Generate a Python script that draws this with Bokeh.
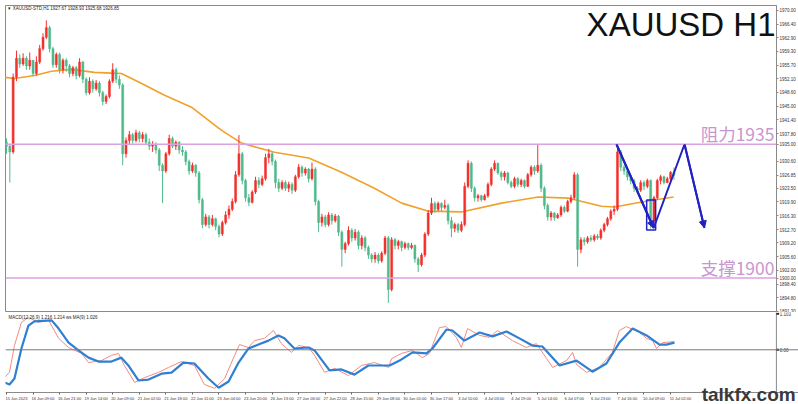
from bokeh.plotting import figure
from bokeh.layouts import column
from bokeh.models import (ColumnDataSource, FixedTicker, Label, Arrow, NormalHead,
                          Span, PrintfTickFormatter, Range1d, LinearAxis)
from bokeh.core.properties import value
from bokeh.embed import file_html
from bokeh.resources import INLINE

# ---------------- data (2-hour bars) ----------------
first_open = 1935.5
closes = [
    1934.5, 1933.0, 1952.5, 1957.5, 1956.0, 1957.5, 1955.5, 1957.0, 1953.5, 1956.5,
    1960.0, 1963.0, 1965.5, 1960.0, 1955.8, 1958.5, 1954.5, 1957.0, 1955.5, 1953.5,
    1955.0, 1953.0, 1956.5, 1952.0, 1948.5, 1951.5, 1949.5, 1951.0, 1948.5, 1946.2,
    1947.5, 1951.5, 1954.5, 1952.0, 1950.5, 1932.5, 1936.0, 1937.5, 1936.0, 1938.0,
    1936.5, 1937.5, 1935.5, 1934.5, 1935.0, 1933.5, 1929.5, 1928.0, 1932.5, 1936.5,
    1934.5, 1935.5, 1933.5, 1933.0, 1930.5, 1928.0, 1929.5, 1927.5, 1920.5, 1914.0,
    1916.0, 1914.0, 1915.5, 1913.5, 1911.5, 1914.5, 1916.5, 1918.0, 1920.0, 1927.0,
    1932.5, 1925.5, 1921.0, 1919.8, 1922.5, 1925.5, 1924.5, 1926.0, 1931.5, 1932.5,
    1930.5, 1925.0, 1923.5, 1925.0, 1923.5, 1924.5, 1923.0, 1926.5, 1929.0, 1927.5,
    1928.5, 1926.0, 1928.5, 1920.0, 1914.5, 1916.0, 1914.0, 1916.5, 1915.0, 1916.2,
    1912.0, 1907.5, 1909.0, 1912.5, 1910.5, 1912.0, 1908.5, 1910.5, 1908.0, 1906.0,
    1905.0, 1906.0, 1904.5, 1906.5, 1910.5, 1897.0, 1910.0, 1908.5, 1909.5, 1908.0,
    1909.0, 1908.0, 1908.5, 1905.0, 1903.5, 1906.0, 1911.5, 1917.0, 1919.5, 1918.0,
    1919.5, 1918.5, 1919.0, 1915.0, 1913.0, 1914.0, 1912.5, 1914.0, 1924.0, 1930.0,
    1923.5, 1921.0, 1921.5, 1920.5, 1921.5, 1924.5, 1928.5, 1930.0, 1927.5, 1926.5,
    1927.5, 1925.0, 1924.0, 1926.0, 1924.5, 1925.5, 1924.0, 1927.0, 1929.0, 1928.0,
    1929.5, 1923.5, 1919.0, 1916.0, 1917.0, 1915.8, 1916.5, 1918.5, 1917.5, 1920.0,
    1921.0, 1927.0, 1907.5, 1910.0, 1909.5, 1910.5, 1910.0, 1911.0, 1910.5, 1912.5,
    1914.0, 1915.5, 1917.5, 1918.0, 1933.0, 1929.0, 1928.0, 1926.5, 1925.5, 1923.5,
    1923.0, 1925.0, 1924.0, 1925.5, 1915.0, 1921.0, 1925.5, 1926.5, 1925.0, 1926.0,
    1927.67, 1926.85,
]
highs = [
    1936.5, 1935.0, 1953.5, 1959.5, 1958.5, 1958.8, 1958.0, 1959.0, 1957.0, 1958.0,
    1961.0, 1964.0, 1967.4, 1966.0, 1960.5, 1959.0, 1959.0, 1957.5, 1957.5, 1956.0,
    1955.5, 1955.5, 1957.5, 1956.8, 1952.5, 1952.5, 1952.0, 1951.8, 1951.5, 1949.0,
    1948.0, 1952.0, 1956.2, 1955.0, 1953.0, 1951.0, 1936.8, 1938.5, 1938.0, 1938.8,
    1938.5, 1938.2, 1938.0, 1936.5, 1935.8, 1935.5, 1934.0, 1930.0, 1933.0, 1937.5,
    1937.0, 1936.0, 1935.8, 1934.5, 1933.5, 1931.0, 1930.2, 1929.8, 1928.0, 1921.0,
    1916.8, 1916.5, 1916.5, 1915.8, 1914.0, 1915.0, 1917.5, 1919.0, 1920.8, 1928.0,
    1937.4, 1933.0, 1926.0, 1922.0, 1923.0, 1926.5, 1926.4, 1926.8, 1932.5, 1933.8,
    1933.0, 1931.0, 1926.0, 1925.6, 1925.5, 1925.2, 1925.0, 1927.0, 1929.8, 1929.5,
    1929.0, 1928.8, 1930.2, 1929.0, 1920.5, 1916.8, 1916.5, 1917.2, 1917.0, 1916.8,
    1916.5, 1912.5, 1909.5, 1913.5, 1913.0, 1912.8, 1912.5, 1911.2, 1911.0, 1908.5,
    1906.5, 1906.8, 1906.5, 1907.0, 1911.0, 1911.0, 1910.7, 1910.5, 1910.0, 1909.8,
    1909.5, 1909.3, 1909.2, 1908.8, 1905.5, 1906.6, 1912.0, 1917.8, 1921.0, 1920.0,
    1920.0, 1919.8, 1920.5, 1919.5, 1916.0, 1914.5, 1914.4, 1914.8, 1925.0, 1930.8,
    1930.5, 1924.0, 1922.0, 1921.8, 1922.0, 1925.0, 1929.0, 1930.8, 1930.2, 1928.0,
    1928.0, 1927.8, 1925.5, 1926.5, 1926.4, 1926.0, 1925.8, 1927.5, 1929.5, 1929.5,
    1934.8, 1930.0, 1924.0, 1919.5, 1917.5, 1917.2, 1917.0, 1919.0, 1919.0, 1920.5,
    1921.8, 1927.7, 1927.5, 1910.7, 1910.7, 1911.0, 1911.2, 1911.5, 1911.5, 1913.0,
    1914.5, 1916.0, 1918.0, 1919.0, 1934.5, 1933.5, 1929.5, 1928.5, 1927.0, 1926.0,
    1924.0, 1925.6, 1925.5, 1926.0, 1925.8, 1921.5, 1926.0, 1927.0, 1926.8, 1926.5,
    1928.0, 1928.93,
]
lows = [
    1932.5, 1925.0, 1932.5, 1951.5, 1955.0, 1955.5, 1954.5, 1954.5, 1952.8, 1953.0,
    1956.0, 1959.5, 1962.5, 1959.0, 1955.0, 1955.0, 1953.5, 1953.5, 1954.0, 1952.5,
    1952.8, 1952.0, 1952.5, 1951.0, 1947.8, 1948.0, 1948.5, 1949.0, 1947.5, 1945.2,
    1945.5, 1947.0, 1951.0, 1951.0, 1949.5, 1929.5, 1931.5, 1935.0, 1935.2, 1935.5,
    1935.5, 1935.5, 1934.8, 1933.5, 1933.0, 1932.5, 1928.0, 1919.6, 1927.5, 1932.0,
    1934.0, 1933.5, 1932.5, 1932.0, 1929.5, 1927.0, 1927.5, 1926.5, 1919.5, 1913.0,
    1913.5, 1913.0, 1913.5, 1912.5, 1910.7, 1911.0, 1914.0, 1915.5, 1917.5, 1919.5,
    1926.5, 1924.5, 1920.0, 1918.8, 1919.5, 1922.0, 1923.5, 1924.0, 1925.5, 1930.0,
    1929.5, 1923.5, 1922.5, 1923.0, 1922.8, 1922.5, 1922.0, 1922.5, 1926.0, 1926.5,
    1926.8, 1925.0, 1925.5, 1919.0, 1912.0, 1913.5, 1913.3, 1913.5, 1914.0, 1914.5,
    1911.0, 1903.0, 1906.5, 1908.5, 1909.5, 1909.8, 1907.5, 1907.5, 1907.0, 1905.0,
    1904.0, 1904.0, 1903.8, 1904.0, 1906.0, 1893.5, 1896.5, 1907.5, 1907.5, 1907.0,
    1907.5, 1907.3, 1907.5, 1904.0, 1901.6, 1903.0, 1905.5, 1911.0, 1916.5, 1917.0,
    1917.5, 1917.5, 1918.0, 1914.0, 1910.7, 1912.0, 1911.8, 1912.0, 1913.5, 1923.5,
    1922.5, 1920.0, 1920.0, 1920.0, 1920.3, 1921.0, 1924.0, 1928.0, 1927.0, 1925.5,
    1925.5, 1924.5, 1923.5, 1923.5, 1923.8, 1923.8, 1923.5, 1923.8, 1926.5, 1927.0,
    1927.5, 1922.5, 1918.0, 1915.0, 1915.0, 1915.0, 1915.5, 1916.0, 1917.0, 1917.2,
    1919.5, 1920.5, 1903.0, 1906.5, 1908.5, 1909.0, 1909.5, 1909.5, 1910.0, 1910.0,
    1912.0, 1913.5, 1915.0, 1916.5, 1917.5, 1928.0, 1927.0, 1925.5, 1924.5, 1922.5,
    1922.0, 1922.5, 1923.0, 1923.5, 1913.0, 1914.5, 1920.5, 1924.5, 1924.5, 1924.8,
    1925.0, 1925.68,
]

# moving average (orange), read at points along its path
ma_x = [-0.5, 2.4, 8.4, 13.6, 19.6, 26.5, 31.6, 34.6, 40.7, 47.6, 55.7, 63.9, 65.7, 70.8,
        80.7, 91.0, 100.9, 110.8, 119.0, 127.1, 137.0, 149.1, 160.2, 169.3, 179.2, 183.1,
        191.3, 200.9]
ma_y = [1952.5, 1952.2, 1953.0, 1954.1, 1954.6, 1953.8, 1953.6, 1953.5, 1950.9, 1947.8,
        1944.7, 1939.2, 1938.1, 1935.3, 1932.9, 1931.4, 1927.7, 1923.5, 1919.6, 1917.5,
        1917.3, 1919.6, 1921.2, 1920.9, 1918.8, 1918.6, 1919.9, 1921.2]

# MACD panel: signal (blue, thick) and MACD (red, thin)
sig_x = [-0.6, 0.9, 2.4, 4.5, 6.6, 8.4, 13.6, 15.7, 18.7, 21.7, 24.7, 27.7, 31.6, 34.6,
         36.7, 39.8, 42.8, 46.7, 49.7, 53.3, 56.6, 60.8, 63.9, 66.9, 69.9, 72.9, 75.9,
         78.9, 81.9, 83.7, 86.7, 91.0, 92.8, 97.3, 100.9, 104.8, 109.0, 113.0, 115.4,
         118.4, 122.3, 126.5, 128.3, 132.5, 134.3, 137.9, 142.5, 146.4, 150.6, 154.5,
         158.4, 161.4, 166.6, 171.7, 176.5, 180.7, 184.6, 188.6, 192.8, 196.7, 198.8, 201.2]
sig_v = [-1.00, -1.06, -0.88, 0.04, 0.74, 0.87, 0.90, 0.65, 0.22, -0.02, -0.24, -0.36,
         -0.36, -0.24, -0.48, -0.94, -0.91, -0.73, -0.70, -0.39, -0.42, -0.88, -1.16, -0.97,
         -0.39, 0.04, 0.16, 0.28, 0.44, 0.35, 0.04, 0.07, -0.02, -0.63, -0.60, -0.76,
         -0.48, -0.48, -0.48, -0.33, -0.08, -0.11, 0.04, 0.62, 0.59, 0.28, 0.53, 0.41,
         0.56, 0.35, 0.13, 0.10, -0.48, -0.33, -0.67, -0.42, 0.22, 0.65, 0.44, 0.16, 0.16, 0.22]
macd_x = [-0.6, 0.9, 2.4, 4.5, 6.6, 9.6, 12.7, 15.7, 18.7, 22.6, 24.7, 28.6, 31.6, 33.7,
          35.5, 38.6, 41.6, 45.8, 48.8, 52.7, 56.6, 59.6, 62.7, 65.7, 68.7, 70.2, 72.9,
          74.7, 77.7, 80.4, 82.8, 85.8, 88.0, 91.0, 92.8, 95.8, 98.8, 103.0, 106.9, 110.8,
          115.1, 116.0, 119.0, 122.3, 125.3, 127.4, 130.4, 132.5, 135.5, 137.0, 138.9,
          142.5, 145.5, 147.9, 152.4, 156.6, 159.6, 162.7, 164.5, 168.7, 170.5, 171.7,
          174.7, 178.6, 182.5, 184.6, 186.7, 190.7, 192.8, 194.6, 195.8, 197.6, 201.2]
macd_v = [-0.85, -0.69, 0.13, 0.84, 0.99, 0.84, 0.90, 0.35, 0.07, -0.11, -0.39, -0.33,
          -0.17, -0.11, -0.48, -1.00, -0.85, -0.69, -0.54, -0.36, -0.48, -1.06, -1.18, -0.88,
          -0.17, 0.16, 0.07, 0.28, 0.35, 0.59, 0.19, -0.08, 0.13, 0.07, -0.17, -0.69,
          -0.57, -0.79, -0.48, -0.39, -0.54, -0.27, -0.11, -0.02, -0.24, -0.11, 0.68, 0.71,
          0.38, 0.07, 0.65, 0.44, 0.38, 0.59, 0.28, 0.07, 0.19, -0.27, -0.54, -0.33,
          -0.08, -0.45, -0.69, -0.54, -0.08, 0.59, 0.71, 0.53, 0.35, 0.28, 0.04, 0.22, 0.25]

resistance = 1935.0
support = 1900.0
current_price = 1926.85

price_ticks = [1970.0, 1966.4, 1962.9, 1959.3, 1955.7, 1952.1, 1948.6, 1945.0, 1941.4,
               1937.8, 1935.0, 1930.6, 1926.85, 1923.5, 1919.9, 1916.3, 1912.7, 1909.2,
               1905.6, 1902.0, 1900.0, 1898.4, 1894.8, 1891.3]
macd_ticks = [1.103, 0.0]
macd_tick_labels = ["1.103", "0.00"]

time_labels = ["15 Jun 2023", "16 Jun 09:00", "16 Jun 21:00", "19 Jun 14:00", "20 Jun 09:00",
               "21 Jun 02:00", "21 Jun 18:00", "22 Jun 11:00", "23 Jun 04:00", "23 Jun 20:00",
               "26 Jun 13:00", "27 Jun 06:00", "27 Jun 22:00", "28 Jun 15:00", "29 Jun 08:00",
               "30 Jun 01:00", "30 Jun 17:00", "3 Jul 10:00", "4 Jul 03:00", "4 Jul 19:00",
               "5 Jul 14:00", "6 Jul 07:00", "6 Jul 23:00", "7 Jul 16:00", "10 Jul 09:00",
               "11 Jul 02:00"]
bars_per_label = 8

# hand-drawn pattern (blue zigzag with arrows and box)
zig_x = [183.7, 194.9, 204.2, 210.2]
zig_y = [1935.0, 1913.1, 1935.0, 1913.1]
box_left, box_right, box_top, box_bottom = 192.8, 195.5, 1920.4, 1912.6

# ---------------- styling ----------------
UP = "#f2302c"
DOWN = "#4fb98a"
PINK = "#dba2e2"
PINK_TXT = "#c995d0"
BLUE = "#2222c4"
AXIS_FONT = "Liberation Sans"
PX_PER_BAR = 3.32
AXIS_END = 231.9          # bar position of the price axis line

opens = [first_open] + closes[:-1]
xs = list(range(len(closes)))
colors = [UP if c >= o else DOWN for o, c in zip(opens, closes)]
src = ColumnDataSource(dict(
    x=xs, high=highs, low=lows,
    top=[max(o, c) for o, c in zip(opens, closes)],
    bottom=[min(o, c) for o, c in zip(opens, closes)],
    color=colors))

# ---------------- main price panel ----------------
p = figure(frame_width=771, frame_height=306, x_range=Range1d(-0.3, AXIS_END),
           y_range=Range1d(1891.25, 1971.3), output_backend="svg",
           toolbar_location=None, x_axis_location=None, y_axis_location="right",
           min_border_left=5, min_border_right=0, min_border_top=5, min_border_bottom=1)
p.grid.visible = False
p.outline_line_color = "#8a8a8a"
p.background_fill_color = "white"

ya = p.yaxis[0]
ya.ticker = FixedTicker(ticks=price_ticks)
ya.formatter = PrintfTickFormatter(format="%.2f")
ya.major_label_text_font = AXIS_FONT
ya.major_label_text_font_size = "4.5px"
ya.major_label_text_color = "#333333"
ya.axis_line_color = "#8a8a8a"
ya.major_tick_line_color = "#8a8a8a"
ya.major_tick_out = 2
ya.major_tick_in = 0
ya.minor_tick_out = 0
ya.minor_tick_in = 0
ya.major_label_standoff = 1

p.add_layout(Span(location=resistance, dimension="width", line_color=PINK, line_width=1.6))
p.add_layout(Span(location=support, dimension="width", line_color=PINK, line_width=1.6))

p.line(ma_x, ma_y, line_color="#f0a12a", line_width=1.6)

p.segment(x0="x", y0="low", x1="x", y1="high", source=src, line_color="color", line_width=1)
p.vbar(x="x", width=0.6, top="top", bottom="bottom", source=src,
       fill_color="color", line_color="color", line_width=0.5)

p.line(zig_x, zig_y, line_color=BLUE, line_width=2)
for k in (0, 2):
    p.add_layout(Arrow(end=NormalHead(size=7, fill_color=BLUE, line_color=BLUE),
                       x_start=zig_x[k], y_start=zig_y[k], x_end=zig_x[k + 1], y_end=zig_y[k + 1],
                       line_color=BLUE, line_width=2))
p.quad(left=[box_left], right=[box_right], top=[box_top], bottom=[box_bottom],
       fill_alpha=0, line_color=BLUE, line_width=1.5)

p.add_layout(Label(x=231.3, y=1937.8, text="阻力1935", text_align="right",
                   text_baseline="middle", text_font="Noto Sans CJK SC",
                   text_font_size="17.5px", text_color=PINK_TXT))
p.add_layout(Label(x=231.3, y=1902.8, text="支撑1900", text_align="right",
                   text_baseline="middle", text_font="Noto Sans CJK SC",
                   text_font_size="17.5px", text_color=PINK_TXT))
p.add_layout(Label(x=231.6, y=1966.3, text="XAUUSD H1", text_align="right",
                   text_baseline="middle", text_font="Liberation Sans",
                   text_font_size="33px", text_color="#111111"))
p.add_layout(Label(x=0.6, y=1970.5, text="\u25BE XAUUSD-STD,H1  1927.67 1928.93 1925.68 1926.85",
                   text_align="left", text_baseline="middle", text_font=AXIS_FONT,
                   text_font_size="4.5px", text_color="#222222"))

# ---------------- MACD panel ----------------
q_end = -0.3 + 793 / PX_PER_BAR
q = figure(frame_width=793, frame_height=92, x_range=Range1d(-0.3, q_end),
           y_range=Range1d(-1.674, 1.141), output_backend="svg", toolbar_location=None,
           y_axis_location=None, x_axis_location=None,
           min_border_left=5, min_border_right=0, min_border_top=0, min_border_bottom=0)
q.grid.visible = False
q.outline_line_color = None

q.add_layout(Span(location=0, dimension="width", line_color="#7a7a7a", line_width=1))
q.line(macd_x, macd_v, line_color="#f28b82", line_width=1)
q.line(sig_x, sig_v, line_color="#2f7fd2", line_width=2.2)

# price-axis continuation with its two MACD levels
axis_bottom = -1.307
q.segment(x0=[AXIS_END], y0=[1.141], x1=[AXIS_END], y1=[axis_bottom],
          line_color="#8a8a8a", line_width=1)
q.segment(x0=[AXIS_END] * len(macd_ticks), y0=macd_ticks,
          x1=[AXIS_END + 0.8] * len(macd_ticks), y1=macd_ticks,
          line_color="#222222", line_width=2)
q.text(x=[AXIS_END + 1.0] * len(macd_ticks), y=macd_ticks, text=macd_tick_labels,
       text_align="left", text_baseline="middle", text_font=value(AXIS_FONT),
       text_font_size="4.5px", text_color="#333333")

label_ticks = [bars_per_label * k + 3 for k in range(len(time_labels))]
xa = LinearAxis(fixed_location=axis_bottom)
xa.ticker = FixedTicker(ticks=label_ticks,
                        minor_ticks=[bars_per_label * k for k in range(len(time_labels))])
xa.major_label_overrides = {t: s for t, s in zip(label_ticks, time_labels)}
xa.major_label_text_font = AXIS_FONT
xa.major_label_text_font_size = "4px"
xa.major_label_text_color = "#333333"
xa.axis_line_color = "#8a8a8a"
xa.major_tick_out = 0
xa.major_tick_in = 0
xa.minor_tick_out = 2
xa.minor_tick_in = 0
xa.minor_tick_line_color = "#666666"
xa.major_label_standoff = 1
q.add_layout(xa, "below")

q.add_layout(Label(x=0.6, y=0.99, text="MACD(12,26,9) 1.216 1.214 ws MA(9) 1.026",
                   text_align="left", text_baseline="middle", text_font=AXIS_FONT,
                   text_font_size="4.5px", text_color="#222222"))
q.add_layout(Label(x=237.7, y=-1.37, text="talkfx.com", text_align="right",
                   text_baseline="middle", text_font="Liberation Sans",
                   text_font_style="bold", text_font_size="19px", text_color="#3a3a3a"))

layout = column(p, q, spacing=0)
open("out.html", "w").write(file_html(layout, INLINE))
